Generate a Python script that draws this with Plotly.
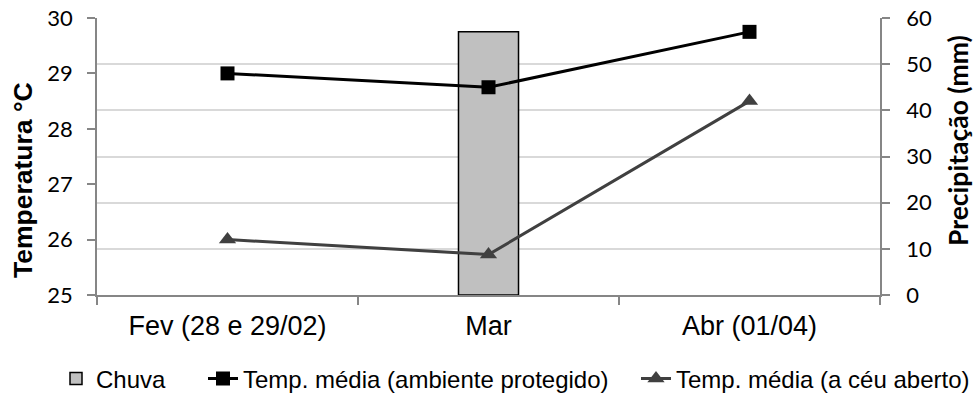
import plotly.graph_objects as go

categories = ["Fev (28 e 29/02)", "Mar", "Abr (01/04)"]
chuva = [None, 57, None]
temp_protegido = [29.0, 28.75, 29.75]
temp_aberto = [26.0, 25.73, 28.5]

temp_ticks = [25, 26, 27, 28, 29, 30]
prec_ticks = [0, 10, 20, 30, 40, 50, 60]

# plot area geometry (pixels)
L, R, T, B = 97, 95, 18, 99
W, H = 975, 394
PW, PH = W - L - R, H - T - B


def px(x):
    return (x - L) / PW


def py(y):
    return (H - B - y) / PH


fig = go.Figure()

fig.add_trace(go.Bar(
    x=categories, y=chuva, name="Chuva", yaxis="y", legend="legend",
    marker=dict(color="#c0c0c0", line=dict(color="#000000", width=1.5)),
))
fig.add_trace(go.Scatter(
    x=categories, y=temp_protegido, name="Temp. média (ambiente protegido)",
    yaxis="y2", mode="lines+markers", legend="legend2",
    line=dict(color="#000000", width=3),
    marker=dict(symbol="square", size=14, color="#000000"),
))
fig.add_trace(go.Scatter(
    x=categories, y=temp_aberto, name="Temp. média (a céu aberto)",
    yaxis="y2", mode="lines+markers", legend="legend3",
    line=dict(color="#404040", width=3),
    marker=dict(symbol="triangle-up", size=15, color="#404040"),
))

legend_font = dict(family="Liberation Sans, Arial, sans-serif", size=24, color="#000000")


def leg(text_start_px):
    return dict(orientation="h", xref="paper", yref="paper",
                x=px(text_start_px - 42), xanchor="left",
                y=py(379), yanchor="middle", font=legend_font,
                bgcolor="rgba(0,0,0,0)", borderwidth=0)


axis_line = "#868686"
fig.update_layout(
    width=W, height=H,
    margin=dict(l=L, r=R, t=T, b=B, autoexpand=False),
    paper_bgcolor="white", plot_bgcolor="white",
    bargap=0.77,
    showlegend=True,
    legend=leg(98),
    legend2=leg(245),
    legend3=leg(678),
    xaxis=dict(
        type="category", showline=True, linecolor=axis_line, linewidth=1.5,
        ticks="outside", tickson="boundaries", ticklen=8, tickcolor=axis_line, tickwidth=1.5,
        ticklabelstandoff=6,
        tickfont=dict(family="Liberation Sans, Arial, sans-serif", size=27, color="#000000"),
        showgrid=False,
    ),
    yaxis=dict(
        side="right", range=[0, 60], tickvals=prec_ticks,
        showline=True, linecolor=axis_line, linewidth=1.5,
        ticks="outside", ticklen=8, tickcolor=axis_line, tickwidth=1.5,
        ticklabelstandoff=12,
        showgrid=True, gridcolor="#d9d9d9", gridwidth=1.5, zeroline=False,
        tickfont=dict(family="Lato, sans-serif", size=22, color="#000000"),
    ),
    yaxis2=dict(
        side="left", overlaying="y", range=[25, 30], tickvals=temp_ticks,
        showline=True, linecolor=axis_line, linewidth=1.5,
        ticks="outside", ticklen=8, tickcolor=axis_line, tickwidth=1.5,
        ticklabelstandoff=10,
        showgrid=False, zeroline=False,
        tickfont=dict(family="Lato, sans-serif", size=22, color="#000000"),
    ),
    annotations=[
        dict(text="<b>Temperatura °C</b>", textangle=-90, showarrow=False,
             xref="paper", yref="paper", x=px(23), y=py(180),
             xanchor="center", yanchor="middle",
             font=dict(family="Liberation Sans, Arial, sans-serif", size=26.5, color="#000000")),
        dict(text="<b>Precipitação (mm)</b>", textangle=-90, showarrow=False,
             xref="paper", yref="paper", x=px(958), y=py(141),
             xanchor="center", yanchor="middle",
             font=dict(family="Lato, sans-serif", size=26.5, color="#000000")),
    ],
)

fig.write_html("out.html")
